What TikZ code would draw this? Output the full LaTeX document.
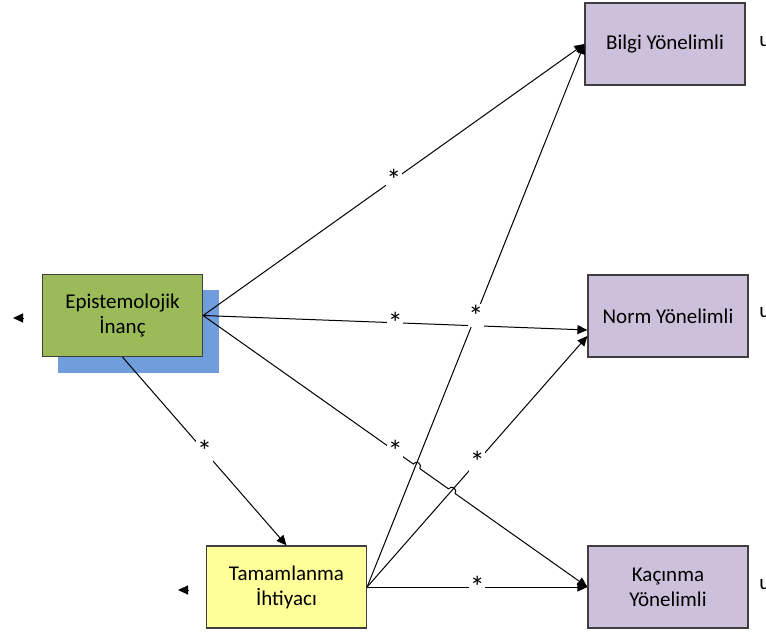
\documentclass[tikz,border=0pt]{standalone}
\usepackage{fontspec}
\setmainfont{Carlito}
\usetikzlibrary{arrows.meta,calc}
\definecolor{epigreen}{HTML}{9BBB59}
\definecolor{shadowblue}{HTML}{709DDC}
\definecolor{lav}{HTML}{CCC0DA}
\definecolor{tamyellow}{HTML}{FFFF99}
\definecolor{edge}{HTML}{3F3F3F}
\tikzset{
  box/.style={draw=edge, line width=0.6pt, minimum width=80pt, minimum height=41pt,
    align=center, font=\fontsize{10.5}{12.5}\selectfont},
  arr/.style={-{Triangle[length=5pt,width=4.5pt]}, line width=0.5pt},
  star/.style={fill=white, inner sep=0.3pt, font=\fontsize{15}{15}\selectfont},
}
\begin{document}
\begin{tikzpicture}[x=0.5pt,y=0.5pt]
\useasboundingbox (0,0) rectangle (766,634);
% boxes
\fill[shadowblue] (58,261) rectangle (219,344);
\node[box, fill=epigreen] (epi) at (122.5,318.5) {Epistemolojik\\İnanç};
\node[box, fill=tamyellow] (tam) at (286.5,47) {Tamamlanma\\İhtiyacı};
\foreach \n/\x/\y/\t in {bilgi/665/590/{Bilgi Yönelimli}, norm/668/318/{Norm Yönelimli}, kac/668/47/{Kaçınma\\Yönelimli}}
  \node[box, fill=lav] (\n) at (\x,\y) {\t};
\foreach \y in {592,321,49} \node[anchor=west, inner sep=0pt, font=\fontsize{10.5}{12}\selectfont] at (759,\y) {u};
% free ends
\coordinate (ue) at (23,316);
\coordinate (ut) at (188,44);
\draw[arr] (ue) -- ++(-10,0);
\draw[arr] (ut) -- ++(-10,0);
\coordinate (n1) at ($(norm.west)+(0,-14)$);
\coordinate (n2) at ($(norm.west)+(0,-20)$);
% hops
\coordinate (h1) at ($(epi.east)!0.5554!(kac.west)$);
\coordinate (h2) at ($(epi.east)!0.6471!(kac.west)$);
% paths
\draw[arr] (epi.east) -- node[star] {*} (n1);
\draw[arr] (epi.east) -- node[star] {*} (bilgi.west);
\draw[arr] (epi.south) -- node[star] {*} (tam.north);
\draw[arr] (tam.east) -- node[star] {*} (bilgi.west);
\draw[arr] (tam.east) -- node[star] {*} (n2);
\draw[arr] (tam.east) -- node[star] {*} (kac.west);
\draw[arr] (epi.east) -- ($(h1)!2pt!(epi.east)$) arc[start angle=144.75, end angle=-35.25, radius=2pt]
  -- ($(h2)!2pt!(epi.east)$) arc[start angle=144.75, end angle=-35.25, radius=2pt] -- (kac.west);
\node[star] at ($(epi.east)!0.5!(kac.west)$) {*};
\end{tikzpicture}
\end{document}
